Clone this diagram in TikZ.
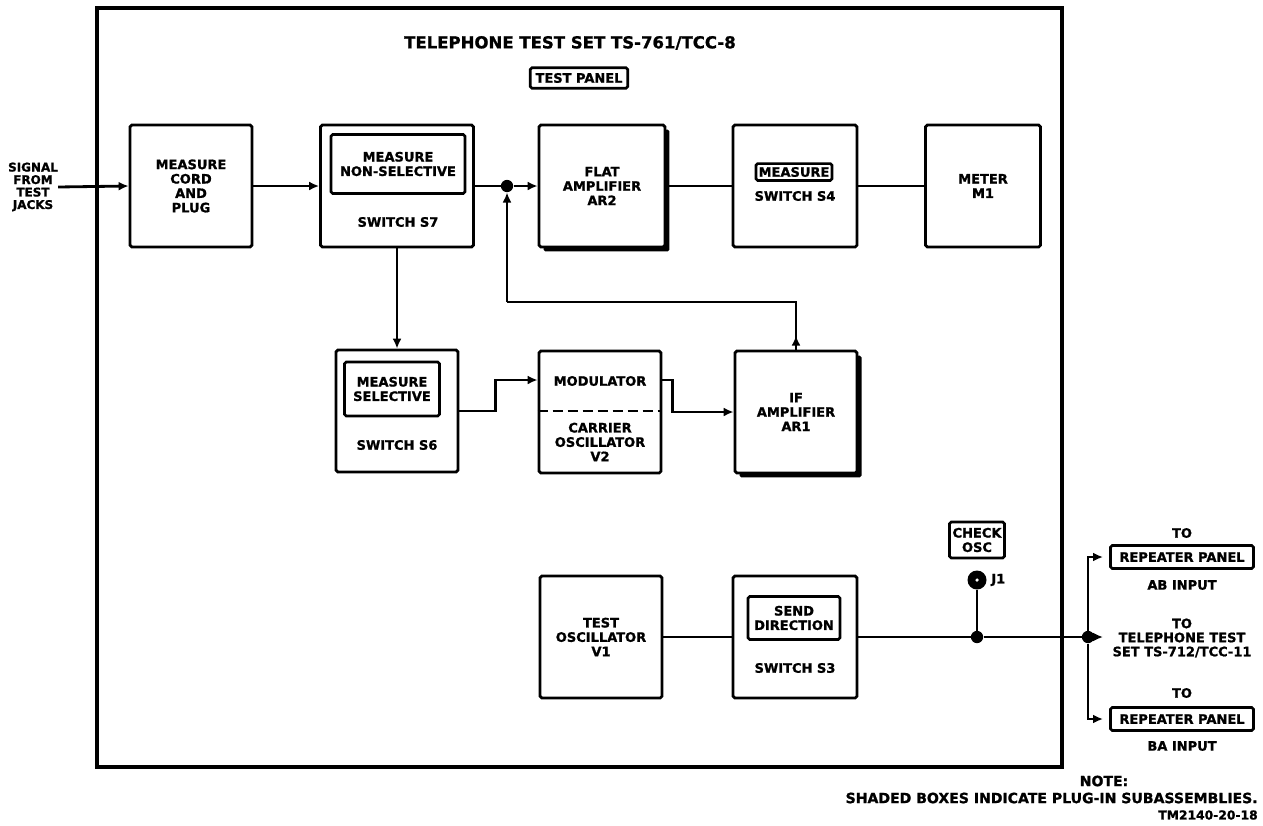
\documentclass[tikz,border=0pt]{standalone}
\usepackage{fontspec}
\setmainfont{DejaVu Sans}[BoldFeatures={FakeBold=1.2}]
\usetikzlibrary{arrows.meta,positioning,calc,shadows}

\begin{document}
\begin{tikzpicture}[
  x=0.02cm,
  y=-0.02cm,
  font=\bfseries\fontsize{7.4}{8.2}\selectfont,
  >={Latex[length=2mm,width=1.8mm]},
  unit/.style={
    draw,
    line width=1.6pt,
    rounded corners=1pt,
    fill=white,
    align=center,
    inner sep=0pt,
    minimum width=2.44cm,
    minimum height=2.44cm
  },
  plugin/.style={unit,drop shadow={shadow xshift=0.9mm,shadow yshift=-0.9mm,fill=black,opacity=1}},
  tag/.style={draw,line width=1.5pt,rounded corners=1pt,align=center,inner sep=2pt,fill=white},
  legend/.style={align=center,inner sep=0pt},
  wire/.style={line width=1.6pt},
  flow/.style={wire,->},
  joint/.style={circle,fill,inner sep=0pt,minimum size=7pt}
]
\useasboundingbox (0,0) rectangle (1263,825);

\draw[line width=1.8pt] (97,8) rectangle (1062,767);

\node[font=\bfseries\fontsize{9.4}{10}\selectfont] (title) at (570,43) {TELEPHONE TEST SET TS-761/TCC-8};
\node[tag,inner xsep=3pt,inner ysep=3pt] (panel) at (579,78) {TEST PANEL};

\node[legend,font=\bfseries\fontsize{6.8}{7.1}\selectfont] (sig) at (33,187) {SIGNAL\\FROM\\TEST\\JACKS};

\node[unit] (cord) at (191,186) {MEASURE\\CORD\\AND\\PLUG};
\node[unit,minimum width=3.06cm] (s7) at (397,186) {};
\node[tag,minimum width=2.68cm,minimum height=1.18cm] (s7sel) at (398,164) {MEASURE\\NON-SELECTIVE};
\node[legend] (s7name) at (398,222) {SWITCH S7};
\node[plugin,minimum width=2.52cm] (flat) at (602,186) {FLAT\\AMPLIFIER\\AR2};
\node[unit,minimum width=2.48cm] (s4) at (795,186) {};
\node[tag,inner xsep=1.5pt,inner ysep=2pt] (s4sel) at (794,172) {MEASURE};
\node[legend] (s4name) at (795,196) {SWITCH S4};
\node[unit,minimum width=2.3cm] (meter) at (983,186) {METER\\M1};

\node[unit] (s6) at (397,411) {};
\node[tag,minimum width=1.9cm,minimum height=1.08cm] (s6sel) at (392,389) {MEASURE\\SELECTIVE};
\node[legend] (s6name) at (397,445) {SWITCH S6};
\node[unit] (mod) at (600,412) {};
\node[legend] (modname) at (600,381) {MODULATOR};
\node[legend] (carrier) at (600,442) {CARRIER\\OSCILLATOR\\V2};
\draw[line width=1.5pt,dash pattern=on 0.2cm off 0.1cm] (mod.west |- 0,411) -- (mod.east |- 0,411);
\node[plugin] (ifamp) at (796,412) {IF\\AMPLIFIER\\AR1};

\node[unit] (testosc) at (601,637) {TEST\\OSCILLATOR\\V1};
\node[unit,minimum width=2.48cm] (s3) at (795,637) {};
\node[tag,minimum width=1.84cm,minimum height=0.86cm] (s3sel) at (794,618) {SEND\\DIRECTION};
\node[legend] (s3name) at (795,668) {SWITCH S3};

\node[tag,minimum width=1.1cm,minimum height=0.72cm,inner sep=1pt] (chk) at (977,540) {CHECK\\OSC};
\node[circle,fill,inner sep=0pt,minimum size=0.38cm] (j1) at (977,580) {};
\fill[white] (j1.center) circle (1pt);
\node[legend,anchor=west] (j1name) at (991,580) {J1};

\node[joint] (jn) at (507,186) {};
\node[joint] (jn2) at (977,637) {};
\node[joint] (branch) at (1088,637) {};
\coordinate (fbturn) at (507,302);
\coordinate (toab) at (1103,557);
\coordinate (tots) at (1103,637);
\coordinate (toba) at (1103,719);

\node[legend] (to1) at (1182,533) {TO};
\node[tag,minimum width=2.86cm,minimum height=0.46cm,inner sep=0pt] (rep1) at (1182,557) {REPEATER PANEL};
\node[legend] (ab) at (1182,585) {AB INPUT};
\node[legend,font=\bfseries\fontsize{7.4}{8}\selectfont] (ts712) at (1182,638) {TO\\TELEPHONE TEST\\SET TS-712/TCC-11};
\node[legend] (to3) at (1182,693) {TO};
\node[tag,minimum width=2.86cm,minimum height=0.46cm,inner sep=0pt] (rep2) at (1182,719) {REPEATER PANEL};
\node[legend] (ba) at (1182,746) {BA INPUT};

\draw[flow] (sig.east) -- (cord.west);
\draw[flow] (cord) -- (s7);
\draw[wire] (s7) -- (jn);
\draw[flow] (jn) -- (flat);
\draw[wire] (flat) -- (s4);
\draw[wire] (s4) -- (meter);
\draw[flow] (s7) -- (s6);
\draw[flow] (s6.east) -- ++(36,0) |- ($(mod.west)+(0,-32)$);
\draw[flow] ($(mod.east)+(0,-32)$) -- ++(10,0) |- (ifamp.west);
\draw[wire] (ifamp.north) |- (fbturn);
\draw[flow] (fbturn) -- (jn);
\draw[flow] (ifamp.north) -- ++(0,-14);
\draw[wire] (testosc) -- (s3);
\draw[wire] (s3) -- (jn2);
\draw[wire] (jn2) -- (branch);
\draw[wire] (jn2) -- (j1);
\draw[flow] (branch) |- (toab);
\draw[flow] (branch) -- (tots);
\draw[flow] (branch) |- (toba);

\node[legend,font=\bfseries\fontsize{8}{9}\selectfont] (note) at (1104,781) {NOTE:};
\node[legend,anchor=east,font=\bfseries\fontsize{8}{9}\selectfont] (notetext) at (1258,798) {SHADED BOXES INDICATE PLUG-IN SUBASSEMBLIES.};
\node[legend,anchor=east,font=\bfseries\fontsize{7}{8}\selectfont] (figno) at (1258,815) {TM2140-20-18};
\end{tikzpicture}
\end{document}
